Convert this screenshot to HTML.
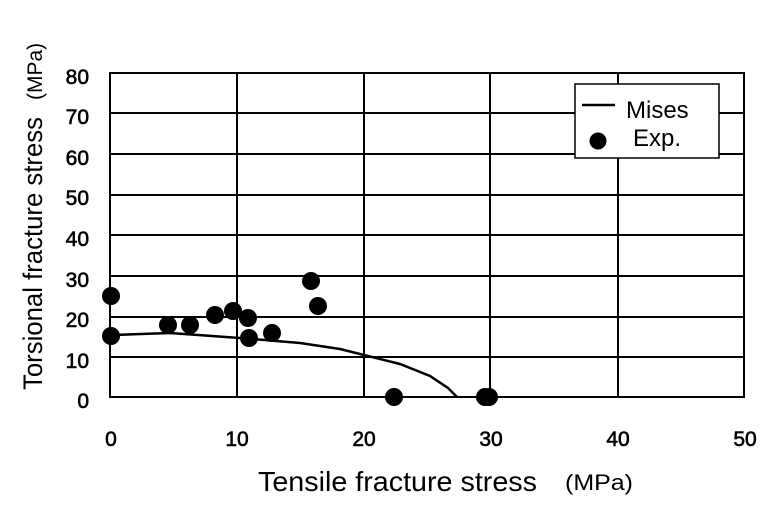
<!DOCTYPE html>
<html><head><meta charset="utf-8"><style>
html,body{margin:0;padding:0;background:#fff;}
svg{display:block;font-family:"Liberation Sans",sans-serif;}
</style></head><body>
<svg width="775" height="524" viewBox="0 0 775 524">
<g stroke="#000" stroke-width="2" fill="none">
<rect x="110" y="73" width="634" height="324"/>
<line x1="237" y1="73" x2="237" y2="397"/>
<line x1="364" y1="73" x2="364" y2="397"/>
<line x1="490" y1="73" x2="490" y2="397"/>
<line x1="618" y1="73" x2="618" y2="397"/>
<line x1="110" y1="357" x2="744" y2="357"/>
<line x1="110" y1="317" x2="744" y2="317"/>
<line x1="110" y1="276" x2="744" y2="276"/>
<line x1="110" y1="235" x2="744" y2="235"/>
<line x1="110" y1="195" x2="744" y2="195"/>
<line x1="110" y1="154" x2="744" y2="154"/>
<line x1="110" y1="113" x2="744" y2="113"/>
<path stroke-width="2.5" d="M112,335 L170,333 L240,338 L300,343 L340,349 L364,355 L400,364 L430,376 L448,388 L457,397"/>
</g>
<g fill="#000">
<circle cx="111" cy="296" r="9"/><circle cx="111" cy="336" r="9"/>
<circle cx="168" cy="325" r="9"/><circle cx="190" cy="325" r="9"/>
<circle cx="215" cy="315" r="9"/><circle cx="233" cy="311" r="9"/>
<circle cx="248" cy="318" r="9"/><circle cx="249" cy="338" r="9"/>
<circle cx="272" cy="333" r="9"/><circle cx="311" cy="281" r="9"/>
<circle cx="318" cy="306" r="9"/><circle cx="394" cy="397" r="9"/>
<circle cx="485" cy="397" r="9"/><circle cx="489" cy="397" r="9"/>
</g>
<rect x="575" y="84" width="144" height="74" fill="#fff" stroke="#000" stroke-width="1.5"/>
<line x1="582" y1="105" x2="615" y2="105" stroke="#000" stroke-width="2.5"/>
<circle cx="598" cy="141" r="8.5" fill="#000"/>
<text x="626" y="118" font-size="24">Mises</text>
<text x="633" y="146" font-size="24">Exp.</text>
<g font-size="21" stroke="#000" stroke-width="0.6" text-anchor="end">
<text x="89" y="84">80</text><text x="89" y="124">70</text><text x="89" y="165">60</text>
<text x="89" y="205">50</text><text x="89" y="246">40</text><text x="89" y="287">30</text>
<text x="89" y="327">20</text><text x="89" y="368">10</text><text x="89" y="408">0</text>
</g>
<g font-size="21" stroke="#000" stroke-width="0.6" text-anchor="middle">
<text x="111" y="446">0</text><text x="237" y="446">10</text><text x="364" y="446">20</text>
<text x="491" y="446">30</text><text x="618" y="446">40</text><text x="745" y="446">50</text>
</g>
<text x="258" y="491" font-size="28" textLength="279" lengthAdjust="spacingAndGlyphs">Tensile fracture stress</text>
<text x="565" y="490" font-size="22" textLength="68" lengthAdjust="spacingAndGlyphs">(MPa)</text>
<text transform="translate(42,390) rotate(-90)" font-size="27" textLength="273" lengthAdjust="spacingAndGlyphs">Torsional fracture stress</text>
<text transform="translate(42,100) rotate(-90)" font-size="21">(MPa)</text>
</svg>
</body></html>
